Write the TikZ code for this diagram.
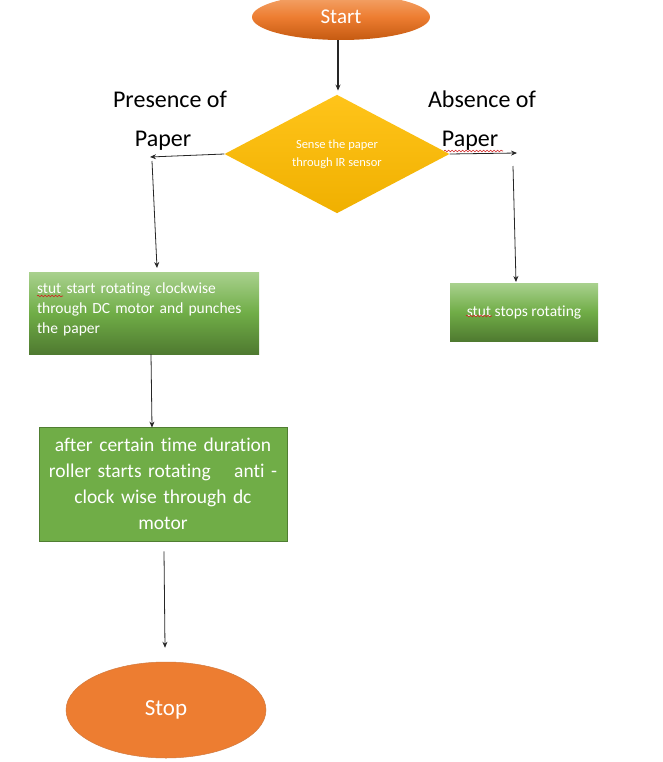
\documentclass[tikz,border=0pt]{standalone}
\usepackage{fontspec}
\setmainfont{Carlito}[Ligatures=NoCommon]
\usetikzlibrary{shapes.geometric,arrows.meta,decorations.pathmorphing}
\definecolor{orangeM}{HTML}{ED7D31}
\definecolor{orangeT}{HTML}{F4A870}
\definecolor{orangeB}{HTML}{C55A11}
\definecolor{goldT}{HTML}{FFC41A}
\definecolor{goldB}{HTML}{F0B000}
\definecolor{greenT}{HTML}{A9D18E}
\definecolor{greenM}{HTML}{70AD47}
\definecolor{greenB}{HTML}{4F7A30}
\definecolor{greenD}{HTML}{507E32}
\definecolor{wavyred}{HTML}{D02020}
\begin{document}
\begin{tikzpicture}[x=1pt,y=-1pt,
  arr/.style={-{Stealth[length=6pt,width=5pt]}, line width=0.8pt, draw=black!85},
  gradbox/.style={rectangle, inner sep=0pt, top color=greenT, bottom color=greenB, middle color=greenM, text=white},
  lbl/.style={font=\fontsize{24}{28}\selectfont, text=black},
  wavy/.style={draw=wavyred, line width=0.6pt, decorate, decoration={snake, amplitude=0.8pt, segment length=3.5pt}}
]
\useasboundingbox (0,0) rectangle (662,762);

% Start
\node[ellipse, minimum width=178pt, minimum height=46pt, inner sep=0pt,
  top color=orangeT, bottom color=orangeB, middle color=orangeM,
  text=white, font=\fontsize{21}{25}\selectfont] (start) at (341,17) {Start};

% Decision
\node[diamond, minimum width=225pt, minimum height=114pt, inner sep=0pt,
  top color=goldT, bottom color=goldB, text=white, align=center,
  font=\fontsize{12.5}{18}\selectfont] (sense) at (337,154) {Sense the paper\\through IR sensor};

% Labels
\node[lbl] (pres1) at (170,99) {Presence of};
\node[lbl] (pres2) at (163,141) {Paper};
\node[lbl] (abs1) at (482,99) {Absence of};
\node[lbl] (abs2) at (470,141) {Paper};
\draw[wavy] (444,151) -- (503,151);

% Boxes
\node[gradbox, minimum width=230pt, minimum height=82pt, text width=214pt, align=left,
  text depth=49pt, font=\fontsize{15.5}{20}\selectfont] (box1) at (144,313)
  {stut start rotating clockwise\\through DC motor and punches\\the paper};
\draw[wavy] (37,296) -- (63,296);

\node[gradbox, minimum width=148pt, minimum height=58pt, align=center,
  font=\fontsize{15.5}{20}\selectfont] (box2) at (524,312) {stut stops rotating};
\draw[wavy] (466,316) -- (492,316);

\node[rectangle, draw=greenD, line width=0.8pt, fill=greenM, text=white,
  minimum width=248pt, minimum height=114pt, text width=236pt, align=center,
  font=\fontsize{19.5}{26}\selectfont] (box3) at (163,484)
  {after certain time duration\\roller starts rotating\hspace{1.2em}anti -\\clock wise through dc\\motor};

% Stop
\node[ellipse, minimum width=200pt, minimum height=96pt, inner sep=0pt,
  fill=orangeM, draw=orangeB!80, line width=0.5pt, text=white,
  font=\fontsize{23}{27}\selectfont] (stop) at (166,710) {Stop};

% Connectors
\draw[arr, line width=1.5pt] ([xshift=-3pt]start.south) -- ([xshift=1pt,yshift=4pt]sense.north);

\coordinate (lc1) at (150,157);
\coordinate (lc2) at (152,161);
\coordinate (lb) at (157,268);
\draw[arr] (sense.west) -- (lc1);
\draw[arr] (lc2) -- (lb);

\coordinate (rc1) at (517,153);
\coordinate (rc2) at (513,166);
\coordinate (rb) at (516,282);
\draw[arr] (sense.east) -- (rc1);
\draw[arr] (rc2) -- (rb);

\draw[arr] ([xshift=7pt]box1.south) -- ([xshift=-11pt,yshift=-1pt]box3.north);
\draw[arr] ([xshift=1pt,yshift=-10pt]box3.south) -- ([xshift=-1pt,yshift=14pt]stop.north);
\end{tikzpicture}
\end{document}
